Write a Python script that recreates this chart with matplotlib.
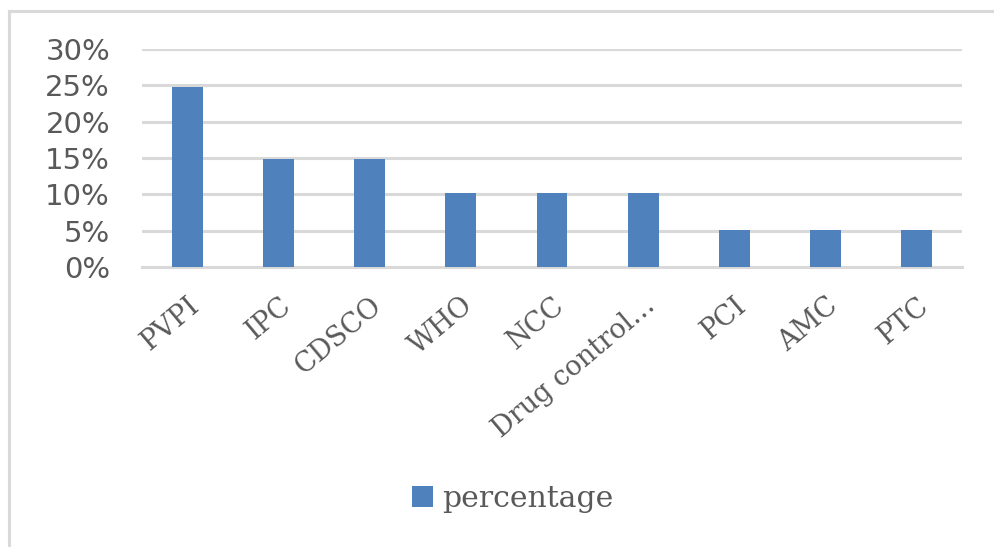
import matplotlib
matplotlib.use("Agg")
import matplotlib.pyplot as plt
from matplotlib.lines import Line2D
from matplotlib.ticker import PercentFormatter, MultipleLocator

categories = ["PVPI", "IPC", "CDSCO", "WHO", "NCC", "Drug control…", "PCI", "AMC", "PTC"]
percentage = [0.248, 0.148, 0.148, 0.102, 0.102, 0.102, 0.051, 0.051, 0.051]

W, H = 995, 547
fig = plt.figure(figsize=(W / 100, H / 100), dpi=100)
ax = fig.add_axes([142 / W, 1 - 267 / H, (962 - 142) / W, (267 - 49) / H])

grid_c = "#D9D9D9"
bar_c = "#4F81BD"
txt_c = "#595959"

x = range(len(categories))
ax.bar(x, percentage, width=0.34, color=bar_c, zorder=3, label="percentage")
ax.set_xlim(-0.5, len(categories) - 0.5)
ax.set_ylim(0, 0.30)
ax.yaxis.set_major_locator(MultipleLocator(0.05))
ax.yaxis.set_major_formatter(PercentFormatter(1.0, decimals=0))
ax.grid(axis="y", color=grid_c, linewidth=2.2, zorder=0)
for s in ["top", "right", "left"]:
    ax.spines[s].set_visible(False)
ax.spines["bottom"].set_color(grid_c)
ax.spines["bottom"].set_linewidth(2.2)
ax.tick_params(axis="both", length=0)
ax.tick_params(axis="y", pad=23, labelsize=21, labelcolor=txt_c)
ax.set_xticks(list(x))
ax.set_xticklabels(categories, rotation=40, ha="right", va="top",
                   rotation_mode="anchor", family="DejaVu Serif",
                   fontsize=19.5, color=txt_c)
ax.tick_params(axis="x", pad=18)

fig.legend(handles=ax.get_legend_handles_labels()[0],
           labels=["percentage"], loc="center",
           bbox_to_anchor=(513 / W, 1 - 499 / H), frameon=False,
           prop={"family": "DejaVu Serif", "size": 21.5},
           handlelength=0.7, handleheight=0.7, handletextpad=0.3,
           labelcolor=txt_c)

# chart-area border (top and left visible)
fig.add_artist(Line2D([8.5 / W, 1.0], [1 - 10.5 / H, 1 - 10.5 / H],
                      transform=fig.transFigure, color=grid_c, linewidth=2.2))
fig.add_artist(Line2D([8.5 / W, 8.5 / W], [1 - 10.5 / H, 0.0],
                      transform=fig.transFigure, color=grid_c, linewidth=2.2))

fig.savefig("out.png", dpi=100)
